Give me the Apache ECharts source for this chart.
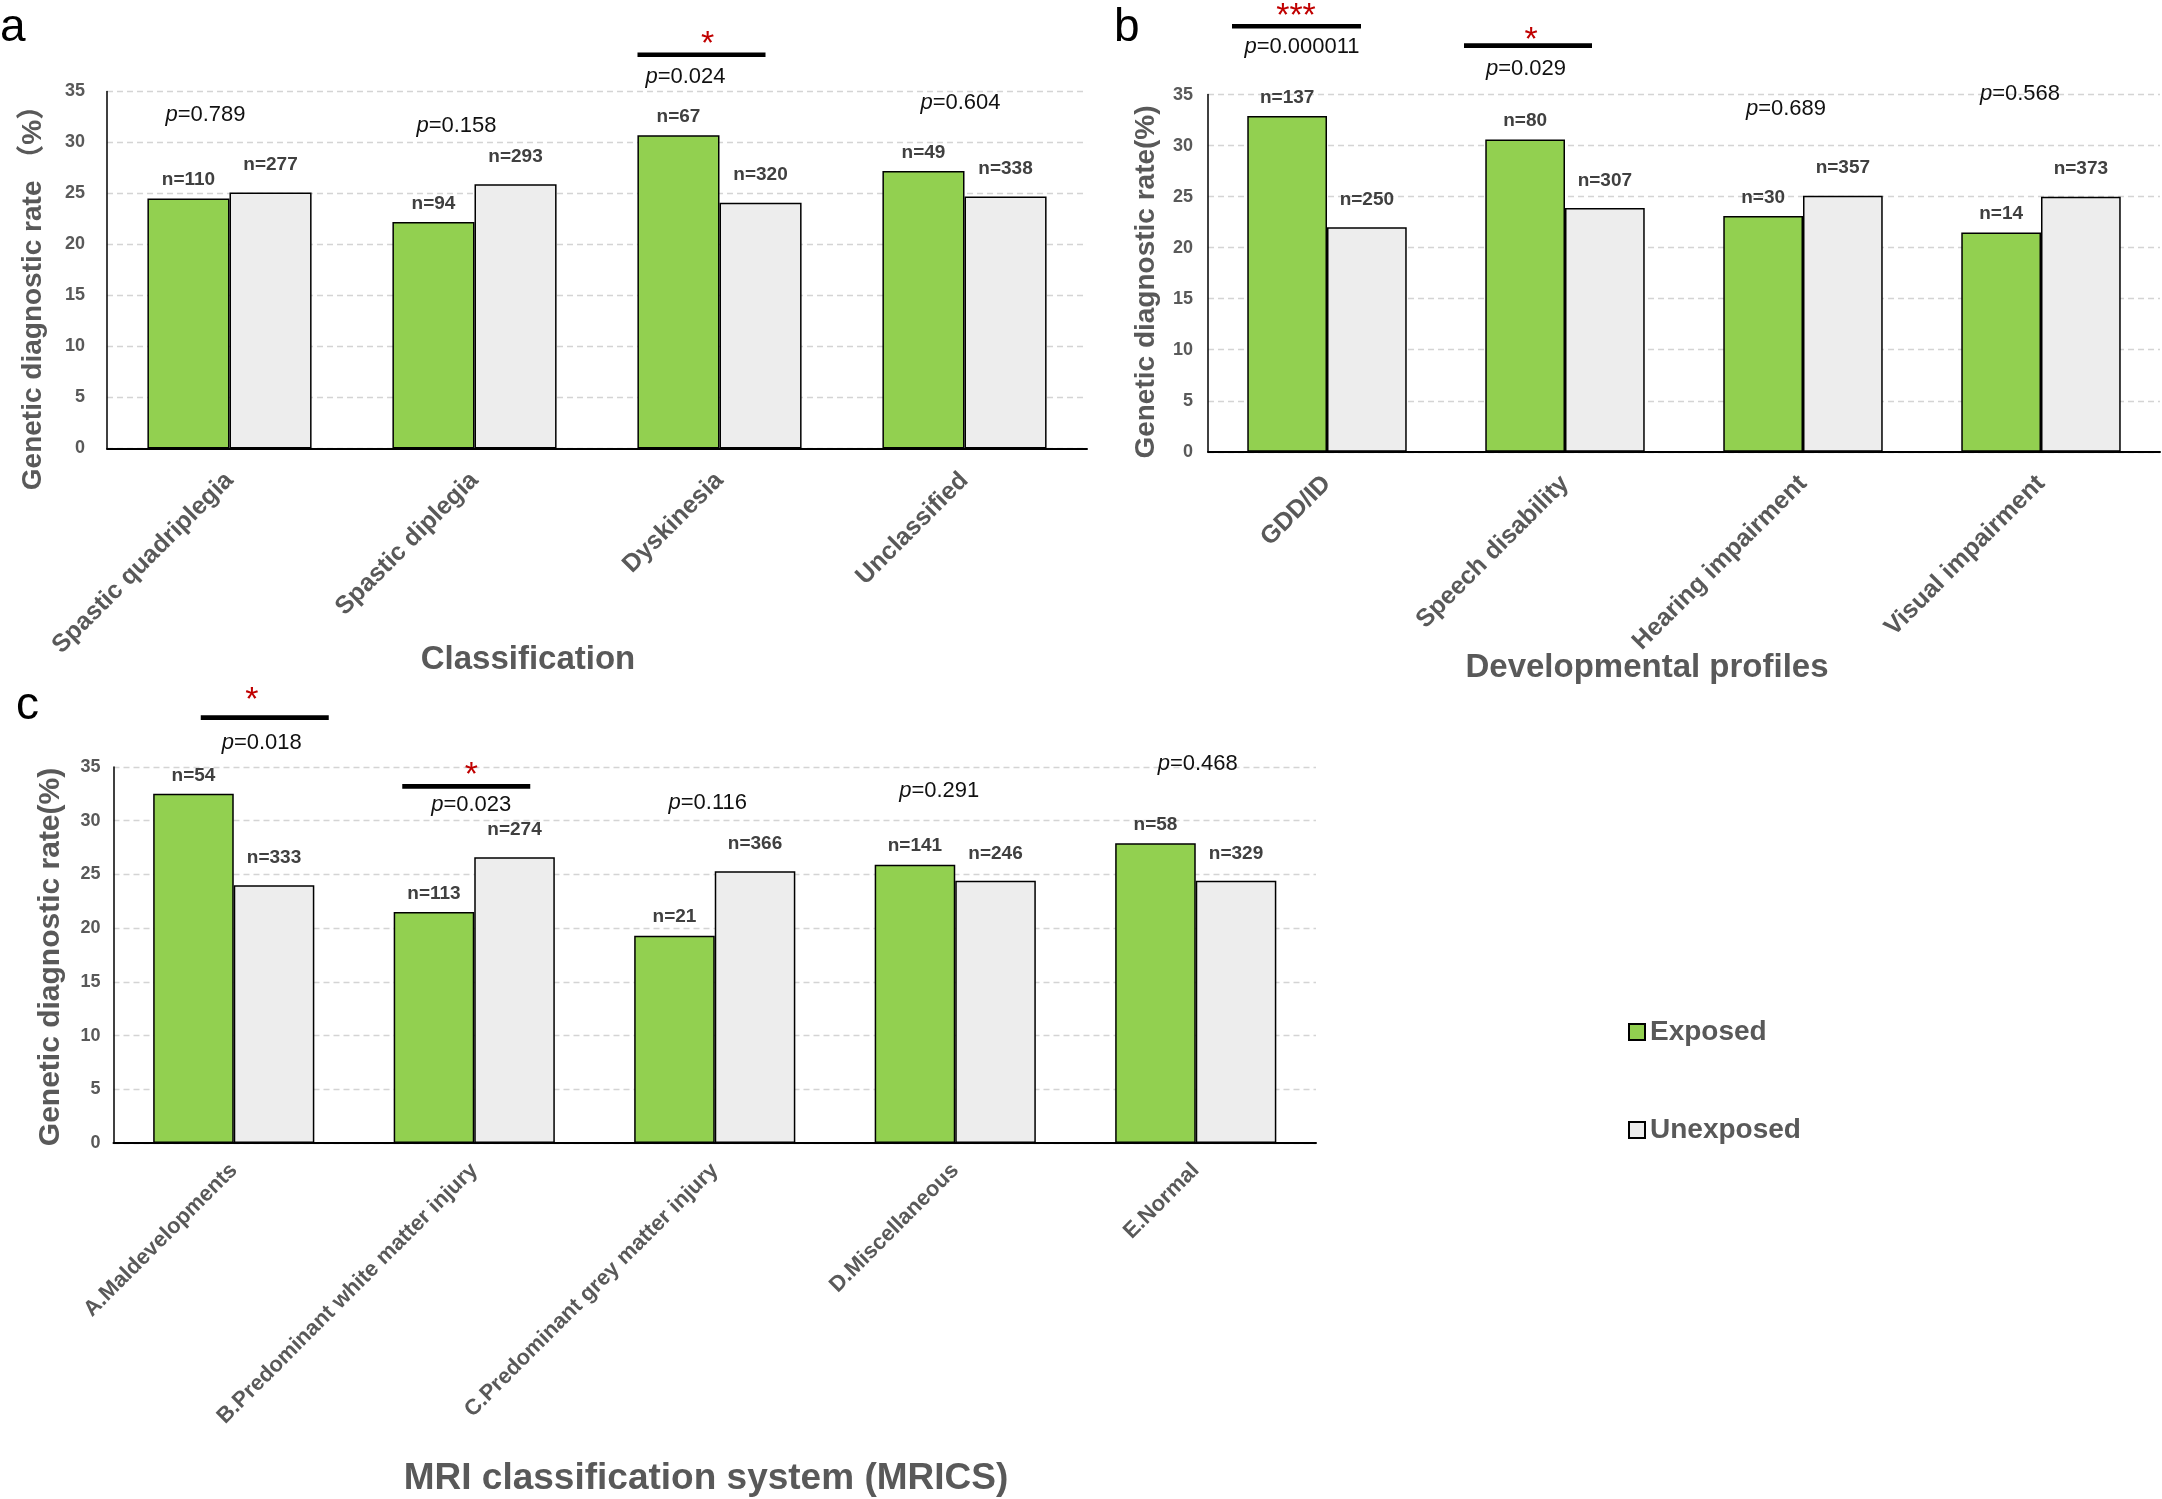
<!DOCTYPE html>
<html>
<head>
<meta charset="utf-8">
<title>Genetic diagnostic rate</title>
<script src="https://cdn.jsdelivr.net/npm/echarts@6/dist/echarts.min.js"></script>
<style>
  html, body { margin: 0; padding: 0; background: #fff; }
  #chart { width: 2162px; height: 1499px; }
</style>
</head>
<body>
<div id="chart"></div>
<script>
// ---- data ----
const seriesNames = ['Exposed', 'Unexposed'];
const yTickMax = 35;
const yTickStep = 5;

// a: Classification
const classCats = ['Spastic quadriplegia', 'Spastic diplegia', 'Dyskinesia', 'Unclassified'];
const classExposed = [24.5, 22.2, 30.7, 27.2];
const classUnexposed = [25.1, 25.9, 24.1, 24.7];
const classNExposed = [110, 94, 67, 49];
const classNUnexposed = [277, 293, 320, 338];
const classP = ['0.789', '0.158', '0.024', '0.604'];
const classSig = ['', '', '*', ''];

// b: Developmental profiles
const devCats = ['GDD/ID', 'Speech disability', 'Hearing impairment', 'Visual impairment'];
const devExposed = [32.9, 30.6, 23.1, 21.5];
const devUnexposed = [22.0, 23.9, 25.1, 25.0];
const devNExposed = [137, 80, 30, 14];
const devNUnexposed = [250, 307, 357, 373];
const devP = ['0.000011', '0.029', '0.689', '0.568'];
const devSig = ['***', '*', '', ''];

// c: MRICS
const mriCats = ['A.Maldevelopments', 'B.Predominant white matter injury', 'C.Predominant grey matter injury', 'D.Miscellaneous', 'E.Normal'];
const mriExposed = [32.5, 21.5, 19.3, 25.9, 27.9];
const mriUnexposed = [24.0, 26.6, 25.3, 24.4, 24.4];
const mriNExposed = [54, 113, 21, 141, 58];
const mriNUnexposed = [333, 274, 366, 246, 329];
const mriP = ['0.018', '0.023', '0.116', '0.291', '0.468'];
const mriSig = ['*', '*', '', '', ''];

// ---- layout (pixels / value levels for annotations) ----
const FONT = '"Liberation Sans", Arial, Helvetica, sans-serif';
const GREEN = '#92d050';
const GREY = '#ededed';
const TEXT_GREY = '#595959';

const panels = [
  {
    letter: 'a', letterPos: [0, 28],
    grid: { left: 107, top: 91.5, width: 980, height: 357 },
    cats: classCats, exp: classExposed, unexp: classUnexposed,
    nExp: classNExposed, nUnexp: classNUnexposed, p: classP, sig: classSig,
    yName: 'Genetic diagnostic rate （%）', yNamePos: [33, 291], yNameSize: 28,
    xName: 'Classification', xNamePos: [528, 660], xNameSize: 33,
    tickMargin: 22, catSize: 25, catMargin: 28,
    // [dx from category centre, value level]
    pAt: [[-24, 32.7], [-18, 31.6], [-34, 36.4], [-4, 33.9]],
    // [dx start, dx end, value level]
    lineAt: [null, null, [-82, 46, 38.6], null],
    starAt: [null, null, [-12, 40.4], null]
  },
  {
    letter: 'b', letterPos: [1114, 28],
    grid: { left: 1208, top: 94.6, width: 952, height: 357.2 },
    cats: devCats, exp: devExposed, unexp: devUnexposed,
    nExp: devNExposed, nUnexp: devNUnexposed, p: devP, sig: devSig,
    yName: 'Genetic diagnostic rate(%)', yNamePos: [1146, 282], yNameSize: 28,
    xName: 'Developmental profiles', xNamePos: [1647, 668], xNameSize: 33,
    tickMargin: 15, catSize: 25, catMargin: 28,
    pAt: [[-25, 39.7], [-39, 37.5], [-17, 33.6], [-21, 35.1]],
    lineAt: [[-95, 34, 41.7], [-101, 27, 39.8], null, null],
    starAt: [[-31, 43.4], [-34, 41.1], null, null]
  },
  {
    letter: 'c', letterPos: [16, 706],
    grid: { left: 113.5, top: 767, width: 1202.5, height: 376 },
    cats: mriCats, exp: mriExposed, unexp: mriUnexposed,
    nExp: mriNExposed, nUnexp: mriNUnexposed, p: mriP, sig: mriSig,
    yName: 'Genetic diagnostic rate(%)', yNamePos: [51, 957], yNameSize: 30,
    xName: 'MRI classification system (MRICS)', xNamePos: [706, 1479], xNameSize: 37,
    tickMargin: 13, catSize: 22, catMargin: 24,
    pAt: [[28, 37.2], [-3, 31.5], [-7, 31.7], [-16, 32.8], [2, 35.3]],
    lineAt: [[-33, 95, 39.6], [-72, 56, 33.2], null, null, null],
    starAt: [[18, 41.9], [-3, 34.9], null, null, null]
  }
];

// ---- build option ----
const grids = [], xAxes = [], yAxes = [], series = [];

panels.forEach(function (pn, i) {
  grids.push(Object.assign({ containLabel: false }, pn.grid));
  xAxes.push({
    type: 'category', gridIndex: i, data: pn.cats,
    axisLine: { lineStyle: { color: '#000', width: 2 } },
    axisTick: { show: false },
    axisLabel: {
      rotate: 45, interval: 0, margin: pn.catMargin,
      color: TEXT_GREY, fontFamily: FONT, fontWeight: 'bold', fontSize: pn.catSize
    },
    splitLine: { show: false }
  });
  yAxes.push({
    type: 'value', gridIndex: i, min: 0, max: yTickMax, interval: yTickStep,
    axisLine: { show: true, lineStyle: { color: '#000', width: 1.5 } },
    axisTick: { show: false },
    axisLabel: {
      margin: pn.tickMargin, color: TEXT_GREY, fontFamily: FONT,
      fontWeight: 'bold', fontSize: 18
    },
    splitLine: { show: true, lineStyle: { color: '#d4d4d4', width: 1.3, type: [6, 4] } }
  });
  const nLabel = function (arr, dist) {
    return {
      show: true, position: 'top', distance: dist,
      fontFamily: FONT, fontWeight: 'bold', fontSize: 19, color: '#404040',
      formatter: function (p) { return 'n=' + arr[p.dataIndex]; }
    };
  };
  series.push({
    name: seriesNames[0], type: 'bar', xAxisIndex: i, yAxisIndex: i,
    data: pn.exp, barGap: '0%', barCategoryGap: '33%',
    itemStyle: { color: GREEN, borderColor: '#000', borderWidth: 1.5 },
    label: nLabel(pn.nExp, 9)
  });
  series.push({
    name: seriesNames[1], type: 'bar', xAxisIndex: i, yAxisIndex: i,
    data: pn.unexp, barGap: '0%', barCategoryGap: '33%',
    itemStyle: { color: GREY, borderColor: '#000', borderWidth: 1.5 },
    label: nLabel(pn.nUnexp, 18)
  });
});

const option = {
  backgroundColor: '#fff',
  animation: false,
  grid: grids,
  xAxis: xAxes,
  yAxis: yAxes,
  series: series,
  legend: {
    data: seriesNames, orient: 'vertical', left: 1623, top: 1013,
    itemGap: 70, itemWidth: 16, itemHeight: 16, icon: 'rect',
    textStyle: { fontFamily: FONT, fontWeight: 'bold', fontSize: 28, color: TEXT_GREY, padding: [0, 0, 0, 0] }
  }
};

const chart = echarts.init(document.getElementById('chart'), null, { renderer: 'canvas' });
chart.setOption(option);

// ---- annotations anchored to the axes ----
const graphics = [];
panels.forEach(function (pn, i) {
  const toPx = function (cat, v) { return chart.convertToPixel({ gridIndex: i }, [cat, v]); };

  graphics.push({
    type: 'text', x: pn.letterPos[0], y: pn.letterPos[1],
    style: { text: pn.letter, font: '46px ' + FONT, fill: '#000', verticalAlign: 'middle' }
  });
  graphics.push({
    type: 'text', x: pn.yNamePos[0], y: pn.yNamePos[1], rotation: Math.PI / 2,
    style: {
      text: pn.yName, font: 'bold ' + pn.yNameSize + 'px ' + FONT + ', "Noto Sans CJK SC"',
      fill: TEXT_GREY, align: 'center', verticalAlign: 'middle'
    }
  });
  graphics.push({
    type: 'text', x: pn.xNamePos[0], y: pn.xNamePos[1],
    style: { text: pn.xName, font: 'bold ' + pn.xNameSize + 'px ' + FONT, fill: TEXT_GREY, align: 'center', verticalAlign: 'middle' }
  });

  pn.cats.forEach(function (c, k) {
    const pa = pn.pAt[k];
    const pp = toPx(k, pa[1]);
    graphics.push({
      type: 'text', x: pp[0] + pa[0], y: pp[1],
      style: {
        text: '{i|p}=' + pn.p[k], align: 'center', verticalAlign: 'middle',
        font: '22px ' + FONT, fill: '#111',
        rich: { i: { fontStyle: 'italic', fontSize: 22, fontFamily: FONT, fill: '#111' } }
      }
    });
    const la = pn.lineAt[k];
    if (la) {
      const lp = toPx(k, la[2]);
      graphics.push({
        type: 'line',
        shape: { x1: lp[0] + la[0], y1: lp[1], x2: lp[0] + la[1], y2: lp[1] },
        style: { stroke: '#000', lineWidth: 4.6 }
      });
    }
    const sa = pn.starAt[k];
    if (sa && pn.sig[k]) {
      const sp = toPx(k, sa[1]);
      graphics.push({
        type: 'text', x: sp[0] + sa[0], y: sp[1] + 8,
        style: { text: pn.sig[k], font: '34px ' + FONT, fill: '#c00000', align: 'center', verticalAlign: 'middle' }
      });
    }
  });
});

chart.setOption({ graphic: graphics });
</script>
</body>
</html>
